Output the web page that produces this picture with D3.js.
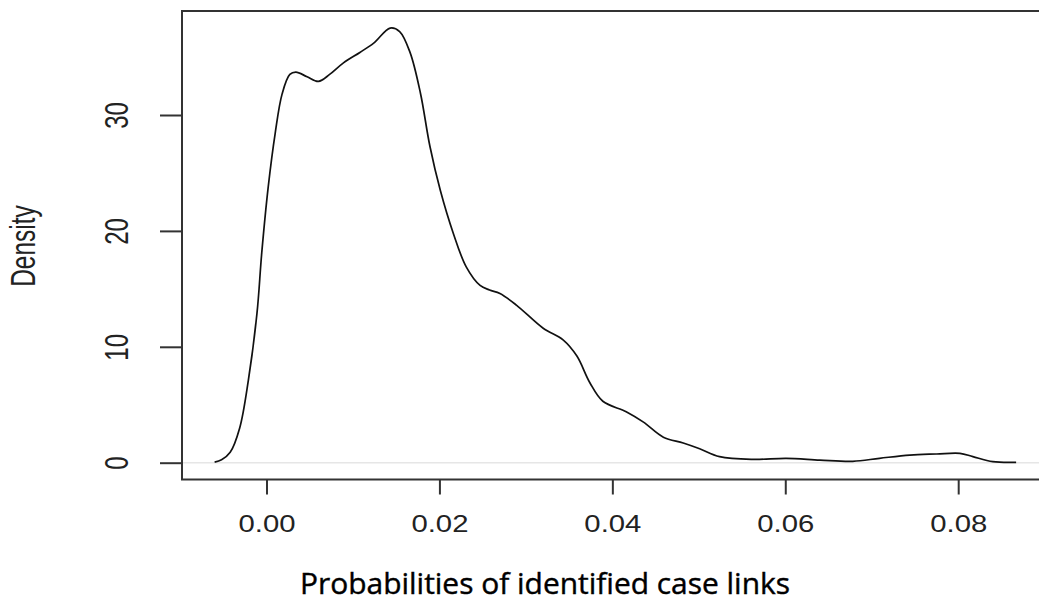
<!DOCTYPE html>
<html>
<head>
<meta charset="utf-8">
<script src="https://cdn.jsdelivr.net/npm/d3@7"></script>
<style>
  body { margin: 0; background: #fff; }
  svg { display: block; }
</style>
</head>
<body>
<div id="chart"></div>
<script>
// density curve
var probX = [-0.0060, -0.0052, -0.0042, -0.0031, -0.0021, -0.0011, -0.00055, 0.0002, 0.0010, 0.0018, 0.0027,
    0.0034, 0.0047, 0.0060, 0.0073, 0.0089, 0.0108, 0.0124, 0.0143, 0.0154, 0.0166,
    0.0178, 0.0189, 0.0201, 0.0216, 0.0231, 0.0247, 0.0258, 0.0270, 0.0289, 0.0320,
    0.0343, 0.0359, 0.0374, 0.0389, 0.0416, 0.0436, 0.0459, 0.0482, 0.0501, 0.0524,
    0.0563, 0.0601, 0.0640, 0.0678, 0.0709, 0.0744, 0.0775, 0.0802, 0.0817, 0.0840, 0.0867];
var density = [0.05, 0.25, 0.9, 3.0, 7.1, 12.9, 18.1, 23.8, 28.4, 31.8, 33.5,
    33.7, 33.3, 32.9, 33.5, 34.5, 35.4, 36.2, 37.5, 37.2, 35.4,
    31.9, 27.3, 23.5, 19.8, 16.9, 15.3, 14.9, 14.6, 13.6, 11.6,
    10.6, 9.2, 6.9, 5.3, 4.4, 3.5, 2.2, 1.7, 1.2, 0.52,
    0.29, 0.38, 0.23, 0.12, 0.38, 0.66, 0.75, 0.81, 0.52, 0.09, 0.03];
var xTicks = [0, 0.02, 0.04, 0.06, 0.08];
var yTicks = [0, 10, 20, 30];
var xTitle = "Probabilities of identified case links";
var yTitle = "Density";

var width = 1039, height = 603;
var box = { left: 182, top: 11, right: 1045, bottom: 479.5 };

var svg = d3.select("#chart").append("svg")
    .attr("width", width)
    .attr("height", height);

var x = d3.scaleLinear().domain([0, 0.08]).range([266.5, 958.2]);
var y = d3.scaleLinear().domain([0, 30]).range([462.7, 115]);

// zero line
svg.append("line")
    .attr("x1", box.left).attr("x2", width)
    .attr("y1", y(0)).attr("y2", y(0))
    .attr("stroke", "#e6e6e6")
    .attr("stroke-width", 1.5);

// plot box
svg.append("rect")
    .attr("x", box.left).attr("y", box.top)
    .attr("width", box.right - box.left)
    .attr("height", box.bottom - box.top)
    .attr("fill", "none")
    .attr("stroke", "#333")
    .attr("stroke-width", 2);

// x axis
var gx = svg.append("g")
    .attr("transform", "translate(0," + box.bottom + ")")
    .call(d3.axisBottom(x).tickValues(xTicks).tickSize(15).tickFormat(d3.format(".2f")));
gx.select(".domain").remove();
gx.selectAll(".tick line").attr("stroke", "#333").attr("stroke-width", 2);
gx.selectAll(".tick text").remove();
gx.selectAll(".tick").append("text")
    .attr("fill", "#222")
    .attr("text-anchor", "middle")
    .attr("transform", "translate(0,52.5) scale(1.22,1)")
    .style("font-family", "Liberation Sans, Arial, sans-serif")
    .style("font-size", "24px")
    .text(d3.format(".2f"));

// y axis
var gy = svg.append("g")
    .attr("transform", "translate(" + box.left + ",0)")
    .call(d3.axisLeft(y).tickValues(yTicks).tickSize(22));
gy.select(".domain").remove();
gy.selectAll(".tick line").attr("stroke", "#333").attr("stroke-width", 2);
gy.selectAll(".tick text").remove();
gy.selectAll(".tick").append("text")
    .attr("fill", "#222")
    .attr("text-anchor", "middle")
    .attr("transform", "translate(-54,0) rotate(-90) scale(1,1.4)")
    .style("font-family", "Liberation Sans, Arial, sans-serif")
    .style("font-size", "24px")
    .text(function(d) { return d; });

// titles
svg.append("text")
    .attr("text-anchor", "middle")
    .attr("transform", "translate(35,246) rotate(-90) scale(1,1.4)")
    .attr("fill", "#222")
    .style("font-family", "Liberation Sans, Arial, sans-serif")
    .style("font-size", "24.5px")
    .text(yTitle);

svg.append("text")
    .attr("x", 300).attr("y", 594)
    .attr("textLength", 490)
    .attr("lengthAdjust", "spacingAndGlyphs")
    .attr("fill", "#000")
    .attr("stroke", "#000")
    .attr("stroke-width", 0.4)
    .style("font-family", "Open Sans, sans-serif")
    .style("font-size", "29px")
    .text(xTitle);

// density curve
var pts = probX.map(function(v, i) { return [v, density[i]]; });
svg.append("path")
    .datum(pts)
    .attr("fill", "none")
    .attr("stroke", "#111")
    .attr("stroke-width", 1.7)
    .attr("d", d3.line()
        .x(function(d) { return x(d[0]); })
        .y(function(d) { return y(d[1]); })
        .curve(d3.curveCatmullRom));
</script>
</body>
</html>
